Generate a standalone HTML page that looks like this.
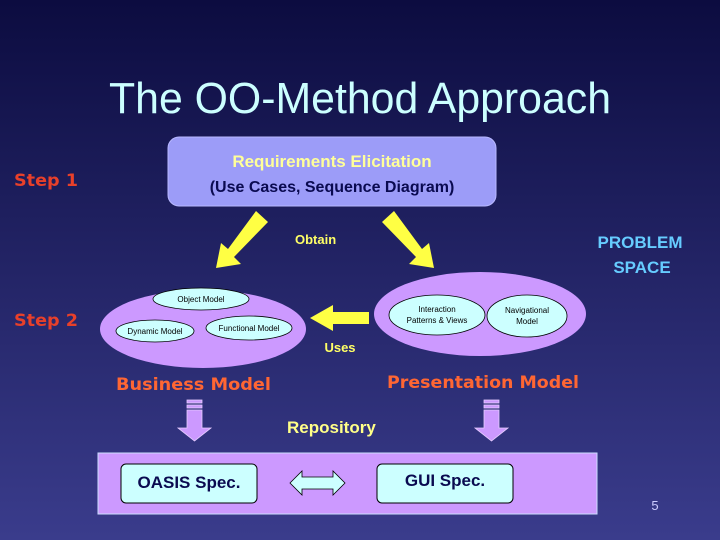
<!DOCTYPE html>
<html><head><meta charset="utf-8"><style>html,body{margin:0;padding:0;}svg{display:block}</style></head>
<body>
<svg width="720" height="540" viewBox="0 0 720 540" xmlns="http://www.w3.org/2000/svg" font-family="Liberation Sans, Arial, sans-serif">
<defs>
<linearGradient id="bg" x1="0" y1="0" x2="0" y2="1">
<stop offset="0" stop-color="#0c0c40"/><stop offset="1" stop-color="#3a3c8c"/>
</linearGradient>
</defs>
<rect width="720" height="540" fill="url(#bg)"/>
<text x="360" y="113" text-anchor="middle" font-size="44" fill="#ccffff" textLength="502" lengthAdjust="spacingAndGlyphs">The OO-Method Approach</text>

<rect x="168" y="137" width="328" height="69" rx="11" fill="#9c9cf8" stroke="#b8b8ff"/>
<text x="332" y="167" text-anchor="middle" font-size="17" font-weight="bold" fill="#ffff99">Requirements Elicitation</text>
<text x="332" y="192" text-anchor="middle" font-size="16" font-weight="bold" fill="#0a0a50">(Use Cases, Sequence Diagram)</text>
<text x="14" y="186" font-size="17" font-weight="bold" fill="#e8402a" font-family="DejaVu Sans, sans-serif" textLength="64" lengthAdjust="spacingAndGlyphs">Step 1</text>
<text x="14" y="326" font-size="17" font-weight="bold" fill="#e8402a" font-family="DejaVu Sans, sans-serif" textLength="64" lengthAdjust="spacingAndGlyphs">Step 2</text>

<g fill="#ffff44">
<polygon points="256,211 268,222 234,257 241,264 216,268 221,243 228,249"/>
<polygon points="394,211 382,222 416,257 409,264 434,268 429,243 422,249"/>
</g>
<text x="295" y="244" font-size="13" font-weight="bold" fill="#ffff66">Obtain</text>
<text x="640" y="248" text-anchor="middle" font-size="17" font-weight="bold" fill="#66ccff">PROBLEM</text>
<text x="642" y="273" text-anchor="middle" font-size="17" font-weight="bold" fill="#66ccff">SPACE</text>

<ellipse cx="203" cy="329" rx="103" ry="39" fill="#cc99ff"/>
<g fill="#ccffff" stroke="#000" stroke-width="0.8">
<ellipse cx="201" cy="299" rx="48" ry="11"/>
<ellipse cx="155" cy="331" rx="39" ry="11"/>
<ellipse cx="249" cy="328" rx="43" ry="12"/>
</g>
<g font-size="8" fill="#000" text-anchor="middle">
<text x="201" y="302">Object Model</text>
<text x="155" y="334">Dynamic Model</text>
<text x="249" y="331">Functional Model</text>
</g>

<ellipse cx="480" cy="314" rx="106" ry="42" fill="#cc99ff"/>
<g fill="#ccffff" stroke="#000" stroke-width="0.8">
<ellipse cx="437" cy="315" rx="48" ry="20"/>
<ellipse cx="527" cy="316" rx="40" ry="21"/>
</g>
<g font-size="8" fill="#000" text-anchor="middle">
<text x="437" y="312">Interaction</text>
<text x="437" y="323">Patterns &amp; Views</text>
<text x="527" y="313">Navigational</text>
<text x="527" y="324">Model</text>
</g>

<polygon points="369,312 333,312 333,305 310,318 333,331 333,324 369,324" fill="#ffff44"/>
<text x="340" y="352" text-anchor="middle" font-size="13" font-weight="bold" fill="#ffff66">Uses</text>

<text x="116" y="390" font-size="17" font-weight="bold" fill="#ff6633" font-family="DejaVu Sans, sans-serif" textLength="155" lengthAdjust="spacingAndGlyphs">Business Model</text>
<text x="387" y="388" font-size="17" font-weight="bold" fill="#ff6633" font-family="DejaVu Sans, sans-serif" textLength="192" lengthAdjust="spacingAndGlyphs">Presentation Model</text>

<g fill="#cc99ff" stroke="#e6ccff" stroke-width="0.8">
<rect x="187" y="400" width="15" height="3"/><rect x="187" y="405" width="15" height="3"/>
<polygon points="187,410 202,410 202,428 211,428 194.5,441 178,428 187,428"/>
<rect x="484" y="400" width="15" height="3"/><rect x="484" y="405" width="15" height="3"/>
<polygon points="484,410 499,410 499,428 508,428 491.5,441 475,428 484,428"/>
</g>
<text x="287" y="433" font-size="17" font-weight="bold" fill="#ffff88">Repository</text>

<rect x="98" y="453" width="499" height="61" fill="#cc99ff" stroke="#ccddff"/>
<rect x="121" y="464" width="136" height="39" rx="5" fill="#ccffff" stroke="#000"/>
<rect x="377" y="464" width="136" height="39" rx="5" fill="#ccffff" stroke="#000"/>
<text x="189" y="488" text-anchor="middle" font-size="17" font-weight="bold" fill="#0a0a50">OASIS Spec.</text>
<text x="445" y="486" text-anchor="middle" font-size="17" font-weight="bold" fill="#0a0a50">GUI Spec.</text>
<polygon points="290,483 302,471 302,477 333,477 333,471 345,483 333,495 333,489 302,489 302,495" fill="#ccffff" stroke="#000" stroke-width="0.8"/>
<text x="655" y="510" text-anchor="middle" font-size="13" fill="#ccccff">5</text>
</svg>
</body></html>
